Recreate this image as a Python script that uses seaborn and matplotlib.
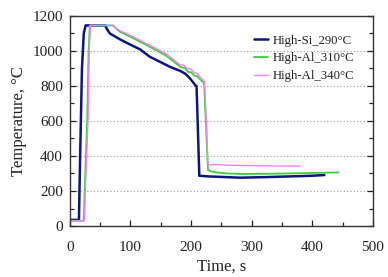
import matplotlib
matplotlib.use("Agg")
import matplotlib.pyplot as plt
import seaborn as sns
import pandas as pd
from matplotlib.ticker import MultipleLocator

# ---- data ----
series_names = ["High-Si_290°C", "High-Al_310°C", "High-Al_340°C"]

si290_time = [0, 15, 17, 20, 23, 26, 58, 62, 66, 83, 100, 116, 132, 150, 165, 175, 182, 186, 190, 194, 198, 203, 207, 209, 210, 213.6, 230, 260, 281, 320, 360, 400, 420]
si290_temp = [35, 35, 400, 900, 1100, 1145, 1145, 1120, 1099, 1065, 1035, 1008, 966, 935, 909, 895, 886, 878, 870, 858, 843, 822, 804, 799, 700, 287, 283, 279, 276, 279, 283, 287, 291]

al310_time = [0, 23, 25, 28.6, 31, 33, 71.5, 77, 83, 100, 132, 160, 182, 190, 195, 200, 205, 210, 215, 220, 221.5, 223, 228, 235, 242, 260, 281, 320, 360, 400, 443]
al310_temp = [30, 30, 250, 600, 1000, 1145, 1145, 1125, 1108, 1080, 1023, 970, 909, 900, 880, 878, 860, 855, 838, 820, 815, 700, 319, 310, 306, 300, 297, 298, 300, 303, 306]

al340_time = [0, 24, 26, 30, 32, 34, 70, 76, 83, 100, 132, 160, 182, 188, 194, 200, 205, 210, 215, 220, 222, 224, 228, 239.5, 260, 300, 340, 380]
al340_temp = [30, 30, 250, 600, 1000, 1145, 1145, 1128, 1115, 1088, 1032, 980, 920, 918, 898, 896, 875, 872, 850, 832, 826, 700, 348, 352, 347, 345, 343, 342]

x_ticks = [0, 100, 200, 300, 400, 500]
y_ticks = [0, 200, 400, 600, 800, 1000, 1200]
colors = ["#0d1580", "#3ccc3c", "#f77ef7"]
widths = [1.8, 1.3, 1.0]

df = pd.concat([
    pd.DataFrame({"Time": si290_time, "Temp": si290_temp, "Series": series_names[0]}),
    pd.DataFrame({"Time": al310_time, "Temp": al310_temp, "Series": series_names[1]}),
    pd.DataFrame({"Time": al340_time, "Temp": al340_temp, "Series": series_names[2]}),
], ignore_index=True)

sns.set_theme(style="white")
plt.rcParams["font.family"] = ["Liberation Serif", "DejaVu Serif"]

fig = plt.figure(figsize=(3.88, 2.77), dpi=100)
ax = fig.add_axes([0.180, 0.184, 0.781, 0.759])

for name, c, lw in zip(series_names, colors, widths):
    sub = df[df["Series"] == name]
    sns.lineplot(data=sub, x="Time", y="Temp", color=c, linewidth=lw,
                 estimator=None, sort=False, ax=ax, label=name)

ax.set_xlim(0, 500)
ax.set_ylim(0, 1200)
ax.set_xticks(x_ticks)
ax.set_yticks(y_ticks)
ax.xaxis.set_minor_locator(MultipleLocator(50))
ax.yaxis.set_minor_locator(MultipleLocator(100))
ax.tick_params(axis="both", which="major", direction="in", length=4, width=0.9,
               labelsize=11, colors="#222222", right=True, top=False, bottom=True, left=True, pad=5)
ax.tick_params(axis="both", which="minor", direction="in", length=3, width=0.9,
               right=True, top=False, bottom=True, left=True)
ax.tick_params(axis="x", pad=11)
ax.yaxis.grid(True, linestyle=(0, (1, 2)), color="#999999", linewidth=0.8)
ax.xaxis.grid(False)
for s in ax.spines.values():
    s.set_color("#333333")
    s.set_linewidth(1.0)

ax.set_xlabel("Time, s", fontsize=12, color="#222222", labelpad=3)
ax.set_ylabel("Temperature, °C", fontsize=12, color="#222222", labelpad=4)

leg = ax.legend(loc="upper left", bbox_to_anchor=(0.59, 0.935), frameon=False,
                fontsize=9.2, handlelength=1.1, handletextpad=0.35, labelspacing=0.45,
                borderaxespad=0)
for t in leg.get_texts():
    t.set_color("#222222")

fig.savefig("out.png", dpi=100)
